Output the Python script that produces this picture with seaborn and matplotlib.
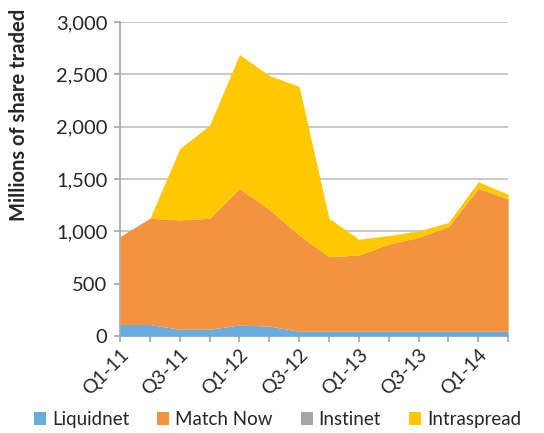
import numpy as np
import matplotlib
matplotlib.use("Agg")
import matplotlib.pyplot as plt
import seaborn as sns

quarters = ["Q1-11", "Q2-11", "Q3-11", "Q4-11", "Q1-12", "Q2-12", "Q3-12",
            "Q4-12", "Q1-13", "Q2-13", "Q3-13", "Q4-13", "Q1-14", "Q2-14"]
liquidnet = [110, 110, 65, 65, 105, 95, 45, 45, 45, 45, 45, 45, 45, 45]
match_now = [840, 1015, 1045, 1060, 1305, 1115, 920, 713, 729, 834, 898, 1000, 1366, 1264]
instinet = [0] * 14
intraspread = [0, 0, 680, 890, 1280, 1280, 1420, 367, 151, 81, 62, 40, 64, 46]

series = ["Liquidnet", "Match Now", "Instinet", "Intraspread"]
colors = ["#68ACDF", "#F39340", "#A5A5A5", "#FFC800"]

sns.set_style("white")
plt.rcParams["font.family"] = ["Lato", "DejaVu Sans"]

fig = plt.figure(figsize=(5.44, 4.33), dpi=100)
ax = fig.add_axes([0.2206, 0.224, 0.7134, 0.725])

x = np.arange(len(quarters))
ax.stackplot(x, liquidnet, match_now, instinet, intraspread,
             colors=colors, labels=series, linewidth=0, zorder=3)

ax.set_xlim(0, len(quarters) - 1)
ax.set_ylim(0, 3000)
ax.set_yticks(range(0, 3001, 500))
ax.set_yticklabels([f"{v:,}" for v in range(0, 3001, 500)], fontsize=14.5)
ax.yaxis.grid(True, color="#BFBFBF", linewidth=1.2, zorder=0)
ax.set_axisbelow(True)

ax.set_xticks(x)
ax.set_xticklabels([q if i % 2 == 0 else "" for i, q in enumerate(quarters)],
                   rotation=45, ha="right", rotation_mode="anchor", fontsize=14)

for side in ["top", "right"]:
    ax.spines[side].set_visible(False)
for side in ["left", "bottom"]:
    ax.spines[side].set_color("#A6A6A6")
    ax.spines[side].set_linewidth(1.2)
ax.tick_params(axis="both", direction="out", length=4, width=1.2, color="#A6A6A6",
               left=True, bottom=True, pad=3)
ax.tick_params(axis="y", pad=5)

ax.set_ylabel("Millions of share traded", fontsize=14.5, fontweight="bold")
ax.yaxis.set_label_coords(-0.235, 0.705)

handles, labels = ax.get_legend_handles_labels()
fig.legend(handles, labels, loc="lower center", bbox_to_anchor=(0.51, -0.028), ncol=4,
           frameon=False, fontsize=13.5, handlelength=0.65, handleheight=0.65,
           handletextpad=0.3, columnspacing=1.5)

fig.savefig("out.png", dpi=100)
